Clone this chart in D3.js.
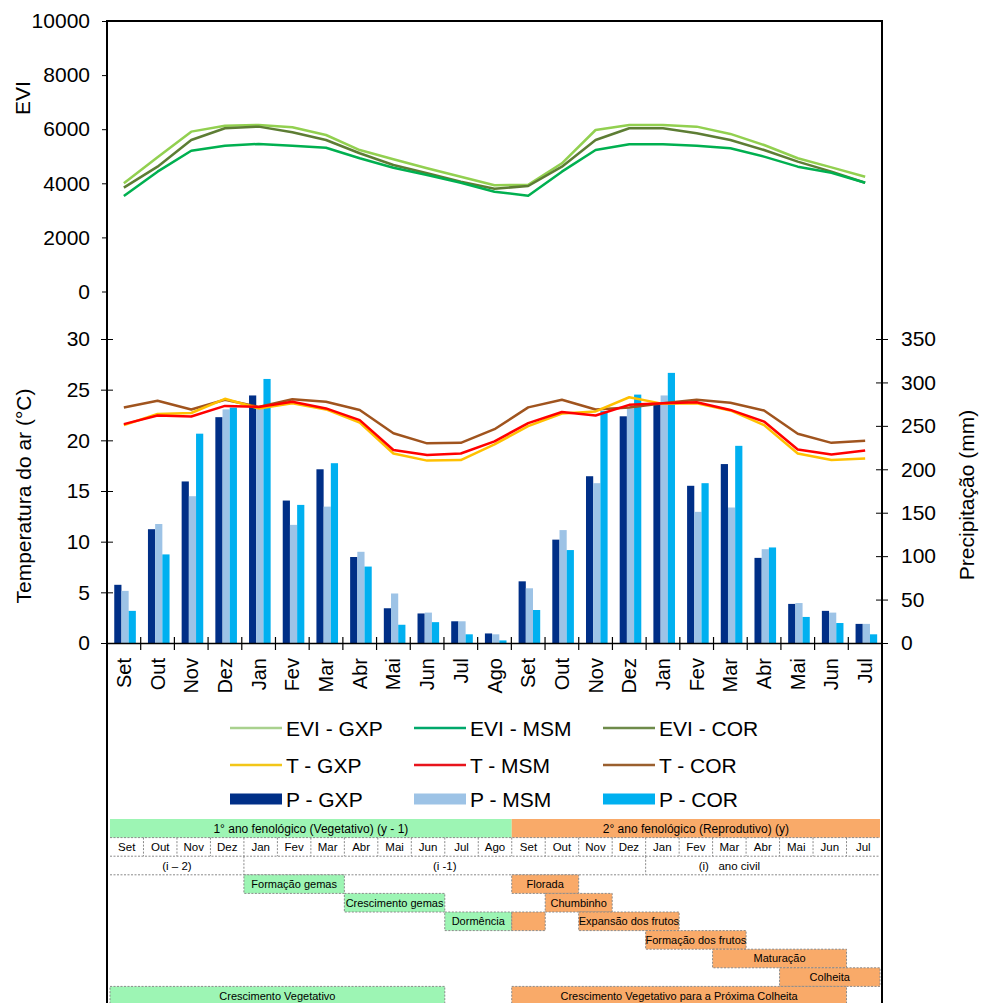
<!DOCTYPE html>
<html>
<head>
<meta charset="utf-8">
<script src="https://cdn.jsdelivr.net/npm/d3@7"></script>
<style>
  body { margin: 0; background: #fff; }
  svg { display: block; font-family: Arial, "Liberation Sans", sans-serif; }
</style>
</head>
<body>
<svg></svg>
<script>
// months Set (y-1) .. Jul (y)
const months = ["Set", "Out", "Nov", "Dez", "Jan", "Fev", "Mar", "Abr", "Mai", "Jun", "Jul", "Ago",
  "Set", "Out", "Nov", "Dez", "Jan", "Fev", "Mar", "Abr", "Mai", "Jun", "Jul"]

const eviGXP = [4000, 4960, 5910, 6130, 6155, 6070, 5785, 5230, 4890, 4555, 4245, 3930,
  3940, 4740, 5970, 6155, 6155, 6095, 5825, 5415, 4925, 4590, 4245]
const eviMSM = [3530, 4430, 5205, 5390, 5455, 5390, 5315, 4925, 4575, 4305, 4020, 3690,
  3540, 4430, 5230, 5440, 5440, 5390, 5295, 4985, 4615, 4390, 4020]
const eviCOR = [3840, 4615, 5600, 6035, 6095, 5885, 5600, 5110, 4675, 4370, 4060, 3800,
  3900, 4615, 5600, 6035, 6035, 5850, 5600, 5230, 4800, 4430, 4020]

const tGXP = [21.5, 22.6, 22.7, 24.1, 23.15, 23.65, 23.05, 21.75, 18.7, 18.0, 18.05, 19.6,
  21.4, 22.65, 22.85, 24.25, 23.6, 23.65, 22.95, 21.5, 18.7, 18.05, 18.2]
const tMSM = [21.6, 22.45, 22.35, 23.4, 23.3, 23.8, 23.15, 22.0, 19.05, 18.55, 18.7, 19.9,
  21.7, 22.8, 22.45, 23.5, 23.65, 23.75, 23.0, 21.85, 19.1, 18.6, 19.0]
const tCOR = [23.25, 23.9, 23.05, 24.0, 23.3, 24.05, 23.8, 23.0, 20.7, 19.7, 19.75, 21.1,
  23.25, 24.0, 23.05, 23.25, 23.65, 24.0, 23.7, 22.95, 20.65, 19.75, 19.95]

const pGXP = [67, 131, 186, 260, 285, 164, 200, 99, 40, 34, 25, 11,
  71, 119, 192, 261, 275, 181, 206, 98, 45, 37, 22]
const pMSM = [60, 137, 169, 269, 272, 136, 157, 105, 57, 35, 25, 10,
  63, 130, 184, 270, 285, 151, 156, 108, 46, 35, 22]
const pCOR = [37, 102, 241, 271, 304, 159, 207, 88, 21, 24, 10, 3,
  38, 107, 267, 286, 311, 184, 227, 110, 30, 23, 10]

const eviTicks = [0, 2000, 4000, 6000, 8000, 10000]
const tTicks = [0, 5, 10, 15, 20, 25, 30]
const pTicks = [0, 50, 100, 150, 200, 250, 300, 350]

// phenology table
const yearRow = [
  { label: "1° ano fenológico (Vegetativo) (y - 1)", from: 0, to: 12, phase: "veg" },
  { label: "2° ano fenológico (Reprodutivo) (y)", from: 12, to: 23, phase: "rep" }
]
const civilRow = [
  { label: "(i – 2)", from: 0, to: 4 },
  { label: "(i -1)", from: 4, to: 16 },
  { label: "(i)   ano civil", from: 16, to: 21 }
]
const stages = [
  { label: "Formação gemas", from: 4, to: 7, row: 3, phase: "veg" },
  { label: "Crescimento gemas", from: 7, to: 10, row: 4, phase: "veg" },
  { label: "Dormência", from: 10, to: 12, row: 5, phase: "veg" },
  { label: "", from: 12, to: 13, row: 5, phase: "rep" },
  { label: "Florada", from: 12, to: 14, row: 3, phase: "rep" },
  { label: "Chumbinho", from: 13, to: 15, row: 4, phase: "rep" },
  { label: "Expansão dos frutos", from: 14, to: 17, row: 5, phase: "rep" },
  { label: "Formação dos frutos", from: 16, to: 19, row: 6, phase: "rep" },
  { label: "Maturação", from: 18, to: 22, row: 7, phase: "rep" },
  { label: "Colheita", from: 20, to: 23, row: 8, phase: "rep" },
  { label: "Crescimento Vegetativo", from: 0, to: 10, row: 9, phase: "veg" },
  { label: "Crescimento Vegetativo para a Próxima Colheita", from: 12, to: 22, row: 9, phase: "rep" }
]

const phaseColor = { veg: "#9df5b4", rep: "#f9aa69" }

const svg = d3.select("svg")
  .attr("width", 981)
  .attr("height", 1003)

const idx = d3.range(months.length)

const scaleX = d3.scaleBand().domain(idx).range([107, 882])
const scaleEvi = d3.scaleLinear().domain([0, 10000]).range([291.5, 21])
const scaleT = d3.scaleLinear().domain([0, 30]).range([643, 339])
const scaleP = d3.scaleLinear().domain([0, 350]).range([643, 339])
const scaleSub = d3.scaleBand().domain([0, 1, 2]).range([0, scaleX.bandwidth()])
  .paddingOuter(0.84).align(0.6)

const cx = i => scaleX(i) + scaleX.bandwidth() / 2

// bars
const barSeries = [
  { values: pGXP, color: "#002f87" },
  { values: pMSM, color: "#9dc3e6" },
  { values: pCOR, color: "#00b0f0" }
]

barSeries.forEach((s, k) => {
  svg.append("g")
    .selectAll("rect")
    .data(s.values)
    .enter()
    .append("rect")
    .attr("x", (d, i) => scaleX(i) + scaleSub(k))
    .attr("y", d => scaleP(d))
    .attr("width", scaleSub.bandwidth())
    .attr("height", d => scaleP(0) - scaleP(d))
    .attr("fill", s.color)
})

// lines
const lineSeries = [
  { values: eviGXP, scale: scaleEvi, color: "#92d050" },
  { values: eviCOR, scale: scaleEvi, color: "#5d7d34" },
  { values: eviMSM, scale: scaleEvi, color: "#00b050" },
  { values: tCOR, scale: scaleT, color: "#a0541e" },
  { values: tGXP, scale: scaleT, color: "#ffc000" },
  { values: tMSM, scale: scaleT, color: "#ff0000" }
]

lineSeries.forEach(s => {
  const line = d3.line()
    .x((d, i) => cx(i))
    .y(d => s.scale(d))
  svg.append("path")
    .datum(s.values)
    .attr("d", line)
    .attr("fill", "none")
    .attr("stroke", s.color)
    .attr("stroke-width", 2.5)
    .attr("stroke-linejoin", "round")
})

// axes
const crossTicks = (g, len) => {
  g.select(".domain").remove()
  g.selectAll(".tick line").attr("x1", -len).attr("x2", len).attr("stroke", "#000")
  g.selectAll(".tick text").attr("font-size", 21).attr("font-family", "Arial, 'Liberation Sans', sans-serif")
}

svg.append("g")
  .attr("transform", "translate(107, 0)")
  .call(d3.axisLeft(scaleEvi).tickValues(eviTicks).tickFormat(d3.format("d")).tickSize(0).tickPadding(17))
  .call(g => {
    crossTicks(g, 0)
    g.selectAll(".tick line").attr("x1", -5).attr("x2", 0)
  })

svg.append("g")
  .attr("transform", "translate(107, 0)")
  .call(d3.axisLeft(scaleT).tickValues(tTicks).tickSize(0).tickPadding(17))
  .call(g => crossTicks(g, 6))

svg.append("g")
  .attr("transform", "translate(882, 0)")
  .call(d3.axisRight(scaleP).tickValues(pTicks).tickSize(0).tickPadding(19))
  .call(g => crossTicks(g, 6))

const axisX = svg.append("g")
  .attr("transform", "translate(0, 643)")
  .call(d3.axisBottom(scaleX).tickSize(0).tickFormat(i => months[i]))

axisX.select(".domain").attr("stroke", "#000").attr("stroke-width", 1.5)
axisX.selectAll(".tick text")
  .attr("font-size", 20)
  .attr("font-family", "Arial, 'Liberation Sans', sans-serif")
  .attr("transform", "rotate(-90)")
  .attr("text-anchor", "end")
  .attr("x", -15)
  .attr("y", 0)
  .attr("dy", "0.35em")

axisX.selectAll("line.bound")
  .data(d3.range(1, months.length))
  .enter()
  .append("line")
  .attr("class", "bound")
  .attr("x1", i => scaleX(i))
  .attr("x2", i => scaleX(i))
  .attr("y1", -6)
  .attr("y2", 7)
  .attr("stroke", "#000")
  .attr("stroke-width", 1.2)

// axis titles
svg.append("text")
  .attr("transform", "translate(30, 98) rotate(-90)")
  .attr("text-anchor", "middle")
  .attr("font-size", 21)
  .text("EVI")

svg.append("text")
  .attr("transform", "translate(31, 496) rotate(-90)")
  .attr("text-anchor", "middle")
  .attr("font-size", 21)
  .text("Temperatura do ar (°C)")

svg.append("text")
  .attr("transform", "translate(974, 495) rotate(-90)")
  .attr("text-anchor", "middle")
  .attr("font-size", 21)
  .text("Precipitação (mm)")

// legend
const legendItems = [
  { label: "EVI - GXP", color: "#a9d18e", type: "line" },
  { label: "EVI - MSM", color: "#00a86b", type: "line" },
  { label: "EVI - COR", color: "#6e8b4a", type: "line" },
  { label: "T - GXP", color: "#f2c618", type: "line" },
  { label: "T - MSM", color: "#e8141c", type: "line" },
  { label: "T - COR", color: "#9a5f2e", type: "line" },
  { label: "P - GXP", color: "#002f87", type: "bar" },
  { label: "P - MSM", color: "#9dc3e6", type: "bar" },
  { label: "P - COR", color: "#00b0f0", type: "bar" }
]
const legendCols = [230, 414, 603]
const legendRows = [728, 765, 799]

const legend = svg.selectAll("g.legend")
  .data(legendItems)
  .enter()
  .append("g")
  .attr("class", "legend")
  .attr("transform", (d, i) => `translate(${legendCols[i % 3]}, ${legendRows[Math.floor(i / 3)]})`)

legend.filter(d => d.type === "line")
  .append("line")
  .attr("x1", 0)
  .attr("x2", 52)
  .attr("stroke", d => d.color)
  .attr("stroke-width", 2.5)

legend.filter(d => d.type === "bar")
  .append("rect")
  .attr("x", 0)
  .attr("y", -5.5)
  .attr("width", 52)
  .attr("height", 11)
  .attr("fill", d => d.color)

legend.append("text")
  .attr("x", 56)
  .attr("dy", "0.36em")
  .attr("font-size", 21)
  .text(d => d.label)

// phenology table
const tableX = d3.scaleBand().domain(idx).range([110, 880])
const tableY = d3.scaleBand().domain(d3.range(10)).range([819, 1005])
const rh = tableY.bandwidth()
const dash = "2,1.5"
const grey = "#8a8a8a"

const table = svg.append("g").attr("font-family", "Arial, 'Liberation Sans', sans-serif")

const spanX = d => tableX(d.from)
const spanW = d => tableX(d.to - 1) + tableX.bandwidth() - tableX(d.from)

table.selectAll("rect.year")
  .data(yearRow)
  .enter()
  .append("rect")
  .attr("class", "year")
  .attr("x", spanX)
  .attr("y", tableY(0))
  .attr("width", spanW)
  .attr("height", rh)
  .attr("fill", d => phaseColor[d.phase])

table.selectAll("text.year")
  .data(yearRow)
  .enter()
  .append("text")
  .attr("class", "year")
  .attr("x", d => spanX(d) + spanW(d) / 2)
  .attr("y", tableY(0) + rh / 2)
  .attr("dy", "0.35em")
  .attr("text-anchor", "middle")
  .attr("font-size", 12)
  .text(d => d.label)

// month row
table.selectAll("text.month")
  .data(idx)
  .enter()
  .append("text")
  .attr("class", "month")
  .attr("x", i => tableX(i) + tableX.bandwidth() / 2)
  .attr("y", tableY(1) + rh / 2)
  .attr("dy", "0.35em")
  .attr("text-anchor", "middle")
  .attr("font-size", 11.5)
  .text(i => months[i])

table.selectAll("line.msep")
  .data(d3.range(1, months.length))
  .enter()
  .append("line")
  .attr("class", "msep")
  .attr("x1", i => tableX(i))
  .attr("x2", i => tableX(i))
  .attr("y1", tableY(1))
  .attr("y2", tableY(2))
  .attr("stroke", grey)
  .attr("stroke-dasharray", dash)

// civil year row
table.selectAll("text.civil")
  .data(civilRow)
  .enter()
  .append("text")
  .attr("class", "civil")
  .attr("x", d => spanX(d) + spanW(d) / 2)
  .attr("y", tableY(2) + rh / 2)
  .attr("dy", "0.35em")
  .attr("text-anchor", "middle")
  .attr("font-size", 11.5)
  .style("white-space", "pre")
  .text(d => d.label)

table.selectAll("line.csep")
  .data([4, 16])
  .enter()
  .append("line")
  .attr("class", "csep")
  .attr("x1", i => tableX(i))
  .attr("x2", i => tableX(i))
  .attr("y1", tableY(2))
  .attr("y2", tableY(3))
  .attr("stroke", grey)
  .attr("stroke-dasharray", dash)

table.selectAll("line.rsep")
  .data([1, 2, 3])
  .enter()
  .append("line")
  .attr("class", "rsep")
  .attr("x1", 110)
  .attr("x2", 880)
  .attr("y1", r => tableY(r))
  .attr("y2", r => tableY(r))
  .attr("stroke", grey)
  .attr("stroke-dasharray", dash)

// stage boxes
const stage = table.selectAll("g.stage")
  .data(stages)
  .enter()
  .append("g")
  .attr("class", "stage")

stage.append("rect")
  .attr("x", spanX)
  .attr("y", d => tableY(d.row))
  .attr("width", spanW)
  .attr("height", rh)
  .attr("fill", d => phaseColor[d.phase])
  .attr("stroke", grey)
  .attr("stroke-dasharray", dash)

stage.append("text")
  .attr("x", d => spanX(d) + spanW(d) / 2)
  .attr("y", d => tableY(d.row) + rh / 2)
  .attr("dy", "0.35em")
  .attr("text-anchor", "middle")
  .attr("font-size", 11)
  .text(d => d.label)

// frame
svg.append("path")
  .attr("d", "M107,1003 V21 H882 V1003")
  .attr("fill", "none")
  .attr("stroke", "#000")
  .attr("stroke-width", 2)
</script>
</body>
</html>
